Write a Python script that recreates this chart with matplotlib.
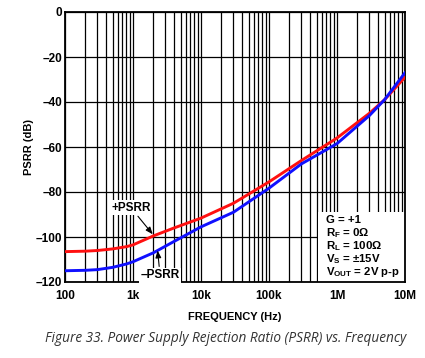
import matplotlib

matplotlib.use("Agg")
import matplotlib.pyplot as plt  # noqa: E402
from matplotlib.patches import Rectangle  # noqa: E402
from matplotlib.ticker import FixedLocator, LogLocator, NullFormatter  # noqa: E402

plt.rcParams["font.family"] = ["Liberation Sans", "DejaVu Sans"]
plt.rcParams["mathtext.default"] = "regular"

# values
FREQ = [100, 200, 300, 500, 800, 1e3, 2e3, 4e3, 1e4, 3e4, 1e5, 3e5, 1e6, 3e6, 5e6, 1e7]
PSRR_POS = [-106.5, -106.3, -106, -105.3, -104.3, -103.5, -99.5, -96, -91.6, -85,
            -75.5, -66, -56, -45, -39, -29]
PSRR_NEG = [-115, -114.8, -114.5, -113.5, -112, -111, -107, -102, -95.5, -89,
            -78.3, -67.5, -58.5, -46, -39, -27]

X_TICKS = [100, 1e3, 1e4, 1e5, 1e6, 1e7]
X_LABELS = ["100", "1k", "10k", "100k", "1M", "10M"]
Y_TICKS = [0, -20, -40, -60, -80, -100, -120]
Y_LABELS = ["0", "\u201320", "\u201340", "\u201360", "\u201380", "\u2013100", "\u2013120"]

COND = ["G = +1", "R$_F$ = 0\u03a9", "R$_L$ = 100\u03a9", "V$_S$ = \u00b115V",
        "V$_{OUT}$ = 2V p-p"]

fig = plt.figure(figsize=(4.25, 3.58), dpi=100)
ax = fig.add_axes([65 / 425, 76 / 358, 340 / 425, 270 / 358])

ax.semilogx(FREQ, PSRR_POS, color="#ff1010", lw=2.1, zorder=3)
ax.semilogx(FREQ, PSRR_NEG, color="#1010ff", lw=2.1, zorder=3)

ax.set_xlim(100, 1e7)
ax.set_ylim(-120, 0)
ax.xaxis.set_major_locator(FixedLocator(X_TICKS))
ax.set_xticklabels(X_LABELS)
ax.xaxis.set_minor_locator(LogLocator(base=10, subs=range(2, 10)))
ax.xaxis.set_minor_formatter(NullFormatter())
ax.set_yticks(Y_TICKS)
ax.set_yticklabels(Y_LABELS)
ax.tick_params(which="both", length=0, labelsize=8.5)
ax.tick_params(axis="x", pad=6)
ax.tick_params(axis="y", pad=2)
for lab in ax.get_xticklabels() + ax.get_yticklabels():
    lab.set_fontweight("bold")

ax.set_axisbelow(True)
ax.grid(True, which="both", axis="x", color="black", lw=0.9)
ax.grid(True, which="major", axis="y", color="black", lw=0.9)
for sp in ax.spines.values():
    sp.set_linewidth(1.3)

ax.set_xlabel("FREQUENCY (Hz)", fontsize=8, fontweight="bold", labelpad=7)
ax.set_ylabel("PSRR (dB)", fontsize=8, fontweight="bold", labelpad=1)

# white panel for test conditions
ax.add_patch(Rectangle((0.744, 0), 0.256, 0.26, transform=ax.transAxes,
                       facecolor="white", edgecolor="none", zorder=1.5))
for i, s in enumerate(COND):
    ax.text(0.768, 0.230 - i * 0.0481, s, transform=ax.transAxes, fontsize=8.2,
            fontweight="bold", va="center", ha="left", zorder=4)

box = dict(facecolor="white", edgecolor="none", pad=1)
ax.annotate("+PSRR", xy=(1950, -98.8), xytext=(934, -87), fontsize=8.5,
            fontweight="bold", ha="center", va="center", bbox=box, zorder=4,
            arrowprops=dict(arrowstyle="-|>,head_length=0.5,head_width=0.2",
                            color="black", lw=0.8, shrinkA=1, shrinkB=0))
ax.annotate("\u2013PSRR", xy=(2300, -106), xytext=(2500, -117), fontsize=8.5,
            fontweight="bold", ha="center", va="center", bbox=box, zorder=4,
            arrowprops=dict(arrowstyle="-|>,head_length=0.5,head_width=0.2",
                            color="black", lw=0.8, shrinkA=1, shrinkB=0))

fig.text(45 / 425, 1 - 338 / 358,
         "Figure 33. Power Supply Rejection Ratio (PSRR) vs. Frequency",
         fontsize=9.8, style="italic", color="#333333", va="center", ha="left",
         family=["Open Sans", "DejaVu Sans"])

fig.savefig("out.png", dpi=100)
